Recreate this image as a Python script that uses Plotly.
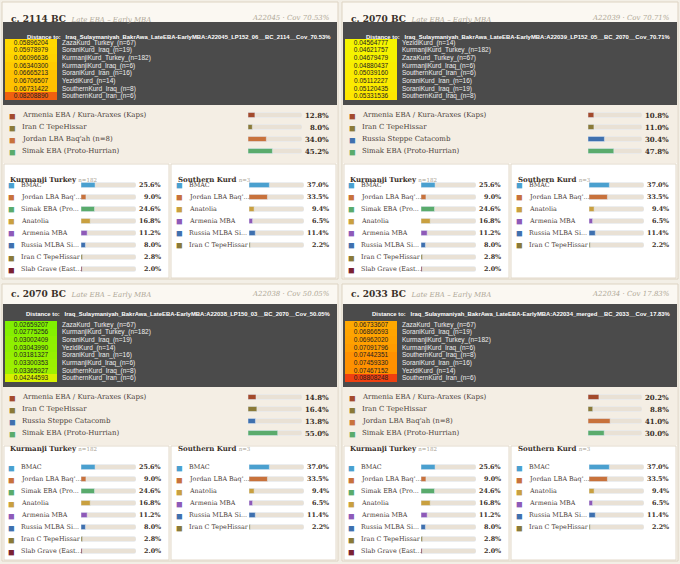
import plotly.graph_objects as go

W, H = 680, 564

# panel headers
periods = ["c. 2114 BC", "c. 2070 BC", "c. 2070 BC", "c. 2033 BC"]
samples = ["A22045 · Cov 70.53%", "A22039 · Cov 70.71%", "A22038 · Cov 50.05%", "A22034 · Cov 17.83%"]
targets = [
    "Iraq_Sulaymaniyah_BakrAwa_LateEBA-EarlyMBA:A22045_LP152_06__BC_2114__Cov_70.53%",
    "Iraq_Sulaymaniyah_BakrAwa_LateEBA-EarlyMBA:A22039_LP152_05__BC_2070__Cov_70.71%",
    "Iraq_Sulaymaniyah_BakrAwa_LateEBA-EarlyMBA:A22038_LP150_03__BC_2070__Cov_50.05%",
    "Iraq_Sulaymaniyah_BakrAwa_LateEBA-EarlyMBA:A22034_merged__BC_2033__Cov_17.83%",
]

# distance tables
dist_names = [
    ["ZazaKurd_Turkey_(n=67)", "SoraniKurd_Iraq_(n=19)", "KurmanjiKurd_Turkey_(n=182)", "KurmanjiKurd_Iraq_(n=6)",
     "SoraniKurd_Iran_(n=16)", "YezidiKurd_(n=14)", "SouthernKurd_Iraq_(n=8)", "SouthernKurd_Iran_(n=6)"],
    ["YezidiKurd_(n=14)", "KurmanjiKurd_Turkey_(n=182)", "ZazaKurd_Turkey_(n=67)", "KurmanjiKurd_Iraq_(n=6)",
     "SouthernKurd_Iran_(n=6)", "SoraniKurd_Iran_(n=16)", "SoraniKurd_Iraq_(n=19)", "SouthernKurd_Iraq_(n=8)"],
    ["ZazaKurd_Turkey_(n=67)", "KurmanjiKurd_Turkey_(n=182)", "SoraniKurd_Iraq_(n=19)", "YezidiKurd_(n=14)",
     "SoraniKurd_Iran_(n=16)", "KurmanjiKurd_Iraq_(n=6)", "SouthernKurd_Iraq_(n=8)", "SouthernKurd_Iran_(n=6)"],
    ["ZazaKurd_Turkey_(n=67)", "SoraniKurd_Iraq_(n=19)", "KurmanjiKurd_Turkey_(n=182)", "KurmanjiKurd_Iraq_(n=6)",
     "SouthernKurd_Iraq_(n=8)", "SoraniKurd_Iran_(n=16)", "YezidiKurd_(n=14)", "SouthernKurd_Iran_(n=6)"],
]
dist_values = [
    [0.05896204, 0.05978979, 0.06096636, 0.06340300, 0.06665213, 0.06706507, 0.06731422, 0.08208890],
    [0.04564777, 0.04621757, 0.04679479, 0.04880437, 0.05039160, 0.05112227, 0.05120435, 0.05331536],
    [0.02659207, 0.02775256, 0.03002409, 0.03043990, 0.03181327, 0.03300353, 0.03365927, 0.04244593],
    [0.06733607, 0.06866593, 0.06962020, 0.07091796, 0.07442351, 0.07459330, 0.07467152, 0.08808248],
]
dist_scales = [
    [[0, "#ffd800"], [0.6, "#ffb000"], [1, "#f06010"]],
    [[0, "#f4f400"], [1, "#ffe600"]],
    [[0, "#80f000"], [0.6, "#a8f000"], [1, "#d8f000"]],
    [[0, "#ffa800"], [0.6, "#ff8000"], [1, "#f04010"]],
]

# source model per sample
main_labels = [
    ["Armenia EBA / Kura-Araxes (Kaps)", "Iran C TepeHissar", "Jordan LBA Baq'ah (n=8)", "Simak EBA (Proto-Hurrian)"],
    ["Armenia EBA / Kura-Araxes (Kaps)", "Iran C TepeHissar", "Russia Steppe Catacomb", "Simak EBA (Proto-Hurrian)"],
    ["Armenia EBA / Kura-Araxes (Kaps)", "Iran C TepeHissar", "Russia Steppe Catacomb", "Simak EBA (Proto-Hurrian)"],
    ["Armenia EBA / Kura-Araxes (Kaps)", "Iran C TepeHissar", "Jordan LBA Baq'ah (n=8)", "Simak EBA (Proto-Hurrian)"],
]
main_values = [
    [12.8, 8.0, 34.0, 45.2],
    [10.8, 11.0, 30.4, 47.8],
    [14.8, 16.4, 13.8, 55.0],
    [20.2, 8.8, 41.0, 30.0],
]

# modern reference populations
kur_labels = ["BMAC", "Jordan LBA Baq'...", "Simak EBA (Pro...", "Anatolia", "Armenia MBA",
              "Russia MLBA Si...", "Iran C TepeHissar", "Slab Grave (East..."]
kur_values = [25.6, 9.0, 24.6, 16.8, 11.2, 8.0, 2.8, 2.0]
south_labels = ["BMAC", "Jordan LBA Baq'...", "Anatolia", "Armenia MBA", "Russia MLBA Si...", "Iran C TepeHissar"]
south_values = [37.0, 33.5, 9.4, 6.5, 11.4, 2.2]

colors = {
    "Armenia EBA": "#a34a2c", "Iran C": "#8a7a38", "Jordan": "#c8723c", "Simak": "#5aab6c",
    "Russia Steppe": "#3f70ae", "BMAC": "#4aa0cf", "Anatolia": "#c9a040", "Armenia MBA": "#8e5ab8",
    "Russia MLBA": "#3f70ae", "Slab": "#7a2232",
}
TRACK = "#e9e1d5"
SERIF = "DejaVu Serif"
SANS = "Liberation Sans"


def color_of(label):
    for key, c in colors.items():
        if label.startswith(key):
            return c
    return "#888888"


def px(x):
    return x / W


def py(y):
    return 1 - y / H


def add_axes(fig, k, x0, x1, y0, y1, n, xrange):
    """Create a hidden axis pair k in pixel boxes"""
    fig.update_layout({
        f"xaxis{k}": dict(domain=[px(x0), px(x1)], range=xrange, visible=False, fixedrange=True,
                          anchor=f"y{k}"),
        f"yaxis{k}": dict(domain=[py(y1), py(y0)], range=[n - 0.5, -0.5], visible=False,
                          anchor=f"x{k}", fixedrange=True),
    })
    return f"x{k}", f"y{k}"


def add_bar_group(fig, k, labels, values, ox, oy, x_sq, x_lab, x0, x1, x_pct, first_row, size):
    """Draw labelled percentage bars"""
    n = len(labels)
    xr, yr = add_axes(fig, k, ox + x0, ox + x1, oy + first_row - 6, oy + first_row + 12 * n - 6, n, [0, 100])
    rows = list(range(n))
    fig.add_trace(go.Bar(x=[100] * n, y=rows, orientation="h", marker=dict(color=TRACK, cornerradius=2),
                         width=0.42, xaxis=xr, yaxis=yr, showlegend=False, hoverinfo="skip"))
    fig.add_trace(go.Bar(x=values, y=rows, orientation="h", width=0.42,
                         marker=dict(color=[color_of(l) for l in labels], cornerradius=2),
                         xaxis=xr, yaxis=yr, showlegend=False))
    for i, (lab, v) in enumerate(zip(labels, values)):
        fig.add_annotation(x=px(ox + x_sq), y=i, xref="paper", yref=yr, text="■", showarrow=False,
                           font=dict(size=11, color=color_of(lab)), xanchor="center")
        fig.add_annotation(x=px(ox + x_lab), y=i, xref="paper", yref=yr, text=lab, showarrow=False,
                           font=dict(size=size, color="#4a4038", family=SERIF), xanchor="left")
        fig.add_annotation(x=px(ox + x_pct), y=i, xref="paper", yref=yr, text=f"<b>{v:.1f}%</b>",
                           showarrow=False, font=dict(size=size, color="#3a3028", family=SERIF),
                           xanchor="right")


fig = go.Figure()
shapes = []
k = 2
for p in range(4):
    ox = 0 if p % 2 == 0 else 340
    oy = 0 if p < 2 else 282
    # panel frames
    shapes.append(dict(type="rect", xref="paper", yref="paper", x0=px(ox + 2), x1=px(ox + 338), layer="below",
                       y0=py(oy + 279), y1=py(oy + 2), fillcolor="#fbf8f2", line=dict(color="#ddd3c2", width=1)))
    shapes.append(dict(type="rect", xref="paper", yref="paper", x0=px(ox + 3), x1=px(ox + 337), layer="below",
                       y0=py(oy + 105), y1=py(oy + 22), fillcolor="#4b4b4b", line_width=0))
    shapes.append(dict(type="rect", xref="paper", yref="paper", x0=px(ox + 3), x1=px(ox + 337), layer="below",
                       y0=py(oy + 163), y1=py(oy + 105), fillcolor="#f4eee4", line_width=0))
    for bx0, bx1 in [(ox + 4, ox + 169), (ox + 171, ox + 336)]:
        shapes.append(dict(type="rect", xref="paper", yref="paper", x0=px(bx0), x1=px(bx1), layer="below",
                           y0=py(oy + 278), y1=py(oy + 164), fillcolor="#ffffff",
                           line=dict(color="#e2d9ca", width=1)))

    # header
    fig.add_annotation(x=px(ox + 9), y=py(oy + 12), xref="paper", yref="paper", showarrow=False, xanchor="left",
                       text=f"<b>{periods[p]}</b>  <i><span style='color:#b0a898;font-size:7px'>Late EBA – Early MBA</span></i>",
                       font=dict(size=9, color="#3a3028", family=SERIF))
    fig.add_annotation(x=px(ox + 332), y=py(oy + 12), xref="paper", yref="paper", showarrow=False, xanchor="right",
                       text=f"<i>{samples[p]}</i>", font=dict(size=7, color="#b0a898", family=SERIF))
    fig.add_annotation(x=px(ox + 333), y=py(oy + 32), xref="paper", yref="paper", showarrow=False, xanchor="right",
                       text=f"<b>Distance to:   {targets[p]}</b>", font=dict(size=5.9, color="#ffffff", family=SANS))

    # distance table
    xr, yr = add_axes(fig, k, ox + 5, ox + 57, oy + 39, oy + 100, 8, [-0.5, 0.5])
    rows = list(range(8))
    fig.add_trace(go.Heatmap(z=[[v] for v in dist_values[p]], x=[0], y=rows, colorscale=dist_scales[p],
                             showscale=False, xaxis=xr, yaxis=yr, text=[[f"{v:.8f}"] for v in dist_values[p]],
                             texttemplate="%{text}", textfont=dict(size=6.5, family=SANS, color="#222222")))
    for i, name in enumerate(dist_names[p]):
        fig.add_annotation(x=px(ox + 60), y=i, xref="paper", yref=yr, text=name, showarrow=False,
                           xanchor="left", font=dict(size=6.5, color="#eeeeee", family=SANS))
    k += 1

    # source model
    add_bar_group(fig, k, main_labels[p], main_values[p], ox, oy, 12, 20, 248, 302, 331, 115, 7)
    k += 1

    # reference populations
    fig.add_annotation(x=px(ox + 8), y=py(oy + 173), xref="paper", yref="paper", showarrow=False, xanchor="left",
                       text="<b>Kurmanji Turkey</b> <span style='color:#a8a090;font-size:5.5px'>n=182</span>",
                       font=dict(size=7, color="#3a3028", family=SERIF))
    add_bar_group(fig, k, kur_labels, kur_values, ox, oy, 11, 19, 81, 136, 163, 185, 6.4)
    k += 1
    fig.add_annotation(x=px(ox + 176), y=py(oy + 173), xref="paper", yref="paper", showarrow=False, xanchor="left",
                       text="<b>Southern Kurd</b> <span style='color:#a8a090;font-size:5.5px'>n=3</span>",
                       font=dict(size=7, color="#3a3028", family=SERIF))
    add_bar_group(fig, k, south_labels, south_values, ox, oy, 179, 187, 249, 304, 331, 185, 6.4)
    k += 1

fig.update_layout(
    width=W, height=H,
    margin=dict(l=0, r=0, t=0, b=0),
    paper_bgcolor="#f3efe6",
    plot_bgcolor="rgba(0,0,0,0)",
    barmode="overlay",
    shapes=shapes,
    showlegend=False,
)

fig.write_html("out.html", config={"displayModeBar": False},
               post_script="document.body.style.margin='0';")
